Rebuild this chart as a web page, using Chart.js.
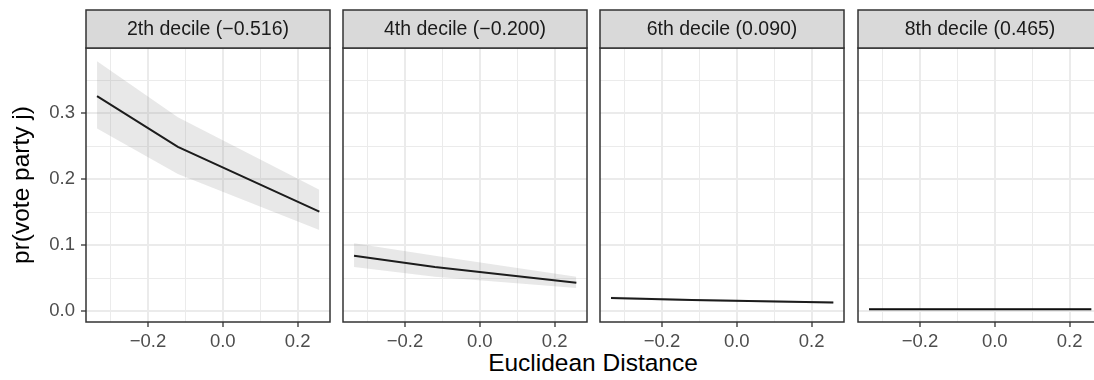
<!DOCTYPE html>
<html>
<head>
<meta charset="utf-8">
<script src="https://cdn.jsdelivr.net/npm/chart.js@4.4.1/dist/chart.umd.min.js"></script>
<style>
  html, body { margin: 0; padding: 0; background: #fff; overflow: hidden; }
  #wrap { position: relative; width: 1094px; height: 380px; overflow: hidden; }
  .panel { position: absolute; top: 0; }
  #xtitle { position: absolute; left: 393px; width: 400px; top: 349px; text-align: center;
            font: 24.5px "Liberation Sans", Arial, sans-serif; color: #000; }
</style>
</head>
<body>
<div id="wrap">
  <div id="xtitle">Euclidean Distance</div>
</div>
<script>
// facet strips
var strips = ["2th decile (\u22120.516)", "4th decile (\u22120.200)", "6th decile (0.090)", "8th decile (0.465)"];

// euclidean distance grid where predictions were evaluated
var xs = [-0.336, -0.12, 0.258];

// predicted pr(vote party j), with lower / upper bounds, one set per facet
var fit1 = [0.326, 0.249, 0.151], lo1 = [0.277, 0.208, 0.123], hi1 = [0.379, 0.294, 0.184];
var fit2 = [0.084, 0.067, 0.043], lo2 = [0.067, 0.052, 0.035], hi2 = [0.103, 0.084, 0.052];
var fit3 = [0.020, 0.017, 0.013], lo3 = [0.018, 0.0155, 0.0115], hi3 = [0.022, 0.0185, 0.0145];
var fit4 = [0.003, 0.003, 0.003], lo4 = [0.0025, 0.0025, 0.0025], hi4 = [0.0035, 0.0035, 0.0035];

var xTicks = [-0.3, -0.2, -0.1, 0.0, 0.1, 0.2];
var yTicks = [0.0, 0.05, 0.1, 0.15, 0.2, 0.25, 0.3, 0.35];
var xMajor = [-0.2, 0.0, 0.2];
var yMajor = [0.0, 0.1, 0.2, 0.3];

var fits = [fit1, fit2, fit3, fit4], los = [lo1, lo2, lo3, lo4], his = [hi1, hi2, hi3, hi4];

var FONT = "'Liberation Sans', Arial, sans-serif";
var PLOT_W = 244, LEFTS = [86, 343, 600, 858];

function isMajor(list, v) {
  return list.some(function (m) { return Math.abs(m - v) < 1e-9; });
}
function fmt(v) {
  return (v < -1e-9 ? "\u2212" : "") + Math.abs(v).toFixed(1);
}
function pts(ys) {
  return xs.map(function (x, i) { return { x: x, y: ys[i] }; });
}

var facetPlugin = {
  id: "facet",
  afterDraw: function (chart, args, opts) {
    var a = chart.chartArea, ctx = chart.ctx;
    ctx.save();
    ctx.lineWidth = 1.5;
    ctx.strokeStyle = "#333333";
    ctx.strokeRect(a.left, a.top, a.right - a.left, a.bottom - a.top);
    // strip
    ctx.fillStyle = "#D9D9D9";
    ctx.fillRect(a.left, 10, a.right - a.left, a.top - 10);
    ctx.strokeRect(a.left, 10, a.right - a.left, a.top - 10);
    ctx.fillStyle = "#1A1A1A";
    ctx.font = "19.5px " + FONT;
    ctx.textAlign = "center";
    ctx.textBaseline = "middle";
    ctx.fillText(opts.label, (a.left + a.right) / 2, (a.top + 10) / 2 + 1);
    ctx.restore();
  }
};

function makePanel(i) {
  var first = i === 0;
  var axisW = first ? 86 : 2;
  var w = axisW + PLOT_W + 2;
  var div = document.createElement("div");
  div.className = "panel";
  div.style.left = (LEFTS[i] - axisW) + "px";
  var cv = document.createElement("canvas");
  cv.width = w; cv.height = 380;
  cv.style.width = w + "px"; cv.style.height = "380px";
  div.appendChild(cv);
  document.getElementById("wrap").appendChild(div);

  new Chart(cv.getContext("2d"), {
    type: "line",
    data: {
      datasets: [{
        data: pts(los[i]), borderWidth: 0, pointRadius: 0, fill: false,
        borderColor: "rgba(0,0,0,0)"
      }, {
        data: pts(his[i]), borderWidth: 0, pointRadius: 0, fill: "-1",
        borderColor: "rgba(0,0,0,0)", backgroundColor: "rgba(140,140,140,0.2)"
      }, {
        data: pts(fits[i]), borderWidth: 2, pointRadius: 0, fill: false,
        borderColor: "#000000", tension: 0
      }]
    },
    options: {
      responsive: false,
      animation: false,
      layout: { padding: { top: 48, right: 2, left: 0, bottom: 0 } },
      plugins: {
        legend: { display: false },
        tooltip: { enabled: false },
        facet: { label: strips[i] }
      },
      scales: {
        x: {
          type: "linear",
          min: -0.3655, max: 0.2865,
          afterBuildTicks: function (s) { s.ticks = xTicks.map(function (v) { return { value: v }; }); },
          afterFit: function (s) { s.height = 58; },
          border: { display: false },
          grid: {
            color: "#EBEBEB",
            lineWidth: function (c) { return isMajor(xMajor, c.tick.value) ? 2 : 1; },
            tickColor: function (c) { return isMajor(xMajor, c.tick.value) ? "#333333" : "rgba(0,0,0,0)"; },
            tickWidth: 1.3,
            tickLength: 5
          },
          ticks: {
            autoSkip: false, maxRotation: 0, padding: 4,
            color: "#4D4D4D", font: { family: FONT, size: 18.5 },
            callback: function (v) { return isMajor(xMajor, v) ? fmt(v) : ""; }
          }
        },
        y: {
          type: "linear",
          min: -0.0165, max: 0.399,
          afterBuildTicks: function (s) { s.ticks = yTicks.map(function (v) { return { value: v }; }); },
          afterFit: function (s) { s.width = axisW; },
          border: { display: false },
          title: {
            display: first, text: "pr(vote party j)", color: "#000",
            font: { family: FONT, size: 24.5 }, padding: { top: 8, bottom: 0 }
          },
          grid: {
            color: "#EBEBEB",
            lineWidth: function (c) { return isMajor(yMajor, c.tick.value) ? 2 : 1; },
            tickColor: function (c) { return first && isMajor(yMajor, c.tick.value) ? "#333333" : "rgba(0,0,0,0)"; },
            tickWidth: 1.3,
            tickLength: first ? 5 : 0,
            drawTicks: first
          },
          ticks: {
            display: first, autoSkip: false, padding: 6,
            color: "#4D4D4D", font: { family: FONT, size: 18.5 },
            callback: function (v) { return isMajor(yMajor, v) ? v.toFixed(1) : ""; }
          }
        }
      }
    },
    plugins: [facetPlugin]
  });
}

for (var i = 0; i < 4; i++) makePanel(i);
</script>
</body>
</html>
